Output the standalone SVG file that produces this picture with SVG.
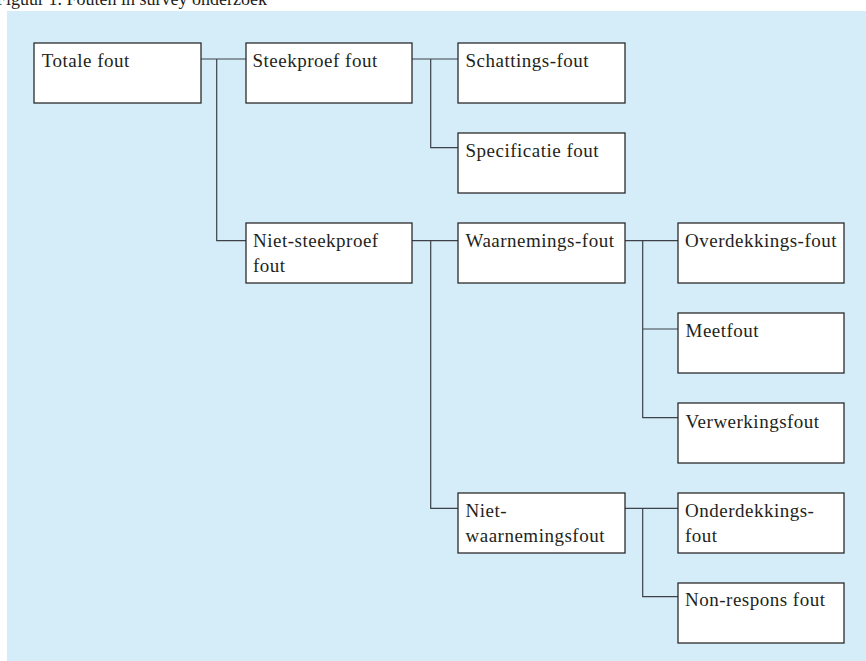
<svg xmlns="http://www.w3.org/2000/svg" width="866" height="661" viewBox="0 0 866 661">
  <style>
    .caption { font-family: "Liberation Serif", "Times New Roman", serif; font-size: 18px; fill: #231f20; }
    .box rect { fill: #ffffff; stroke: #2b2b2b; stroke-width: 1.3; }
    .box text { font-family: "Liberation Serif", "Times New Roman", serif; font-size: 19px; letter-spacing: 0.5px; fill: #231f20; }
    #connectors path { fill: none; stroke: #3c4248; stroke-width: 1.2; }
  </style>

  <!-- page background and caption -->
  <rect x="0" y="0" width="866" height="661" fill="#ffffff"/>
  <text class="caption" x="-4" y="5">Figuur 1. Fouten in survey onderzoek</text>
  <rect x="7" y="11" width="859" height="650" fill="#d5ecf9"/>

  <!-- tree connectors -->
  <g id="connectors">
    <!-- Totale fout -> Steekproef / Niet-steekproef -->
    <path d="M201 59 H246 M216.7 59 V240.7 H246"/>
    <!-- Steekproef fout -> Schattings / Specificatie -->
    <path d="M412 59 H458 M430.7 59 V147.7 H458"/>
    <!-- Niet-steekproef -> Waarnemings / Niet-waarnemings -->
    <path d="M412 240.7 H458 M430.7 240.7 V508.3 H458"/>
    <!-- Waarnemings-fout -> Overdekkings / Meet / Verwerkings -->
    <path d="M625 240.7 H678 M642.7 240.7 V417.7 H678 M642.7 329 H678"/>
    <!-- Niet-waarnemingsfout -> Onderdekkings / Non-respons -->
    <path d="M625 508.3 H678 M642.7 508.3 V596.7 H678"/>
  </g>

  <g id="totale-fout" class="box">
    <rect x="34" y="43" width="167" height="60"/>
    <text x="41.7" y="66.7">Totale fout</text>
  </g>
  <g id="steekproef-fout" class="box">
    <rect x="246" y="43" width="166" height="60"/>
    <text x="252.5" y="66.7">Steekproef fout</text>
  </g>
  <g id="schattings-fout" class="box">
    <rect x="458" y="43" width="167" height="60"/>
    <text x="465.5" y="66.7">Schattings-fout</text>
  </g>
  <g id="specificatie-fout" class="box">
    <rect x="458" y="133" width="167" height="60"/>
    <text x="465.5" y="156.7">Specificatie fout</text>
  </g>
  <g id="niet-steekproef-fout" class="box">
    <rect x="246" y="223" width="166" height="60"/>
    <text x="253" y="246.7">Niet-steekproef</text>
    <text x="253" y="271.7">fout</text>
  </g>
  <g id="waarnemings-fout" class="box">
    <rect x="458" y="223" width="167" height="60"/>
    <text x="465.5" y="246.7">Waarnemings-fout</text>
  </g>
  <g id="overdekkings-fout" class="box">
    <rect x="678" y="223" width="166" height="60"/>
    <text x="685" y="246.7">Overdekkings-fout</text>
  </g>
  <g id="meetfout" class="box">
    <rect x="678" y="313" width="166" height="60"/>
    <text x="685.5" y="337.3">Meetfout</text>
  </g>
  <g id="verwerkingsfout" class="box">
    <rect x="678" y="403" width="166" height="60"/>
    <text x="685.5" y="427.5">Verwerkingsfout</text>
  </g>
  <g id="niet-waarnemingsfout" class="box">
    <rect x="458" y="493" width="167" height="60"/>
    <text x="465.5" y="516.7">Niet-</text>
    <text x="465.5" y="542">waarnemingsfout</text>
  </g>
  <g id="onderdekkings-fout" class="box">
    <rect x="678" y="493" width="166" height="60"/>
    <text x="685" y="516.7">Onderdekkings-</text>
    <text x="685" y="542">fout</text>
  </g>
  <g id="non-respons-fout" class="box">
    <rect x="678" y="583" width="166" height="60"/>
    <text x="685" y="605.7">Non-respons fout</text>
  </g>
</svg>
